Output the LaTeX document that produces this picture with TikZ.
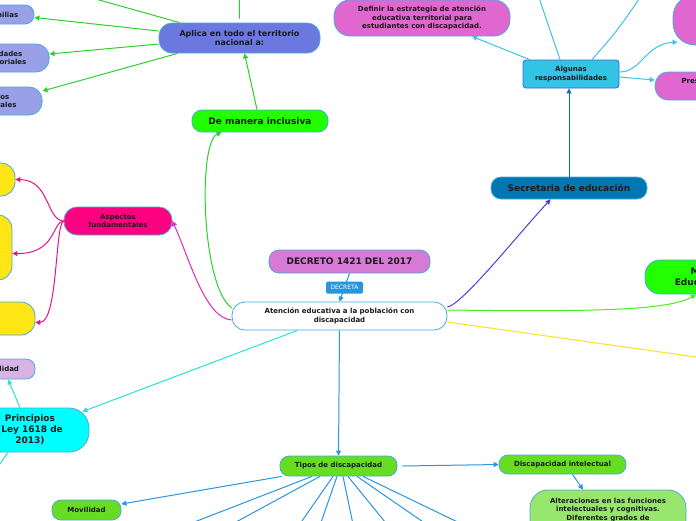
\documentclass[tikz,border=0pt]{standalone}
\usepackage{fontspec}
\setmainfont{DejaVu Sans}
\usetikzlibrary{arrows.meta,calc}
\definecolor{bord}{RGB}{70,170,225}
\definecolor{bordDark}{RGB}{40,110,210}
\definecolor{txt}{RGB}{26,26,26}
\definecolor{cAplica}{RGB}{107,120,224}
\definecolor{cLav}{RGB}{154,160,232}
\definecolor{cGreen}{RGB}{34,255,0}
\definecolor{cPink}{RGB}{224,102,208}
\definecolor{cAlg}{RGB}{51,195,229}
\definecolor{cSec}{RGB}{0,119,179}
\definecolor{cDec}{RGB}{214,122,214}
\definecolor{cLbl}{RGB}{38,150,222}
\definecolor{cAsp}{RGB}{255,0,128}
\definecolor{cYel}{RGB}{255,230,20}
\definecolor{cLid}{RGB}{216,180,230}
\definecolor{cCyan}{RGB}{0,255,255}
\definecolor{cTip}{RGB}{102,221,34}
\definecolor{cAlt}{RGB}{153,230,110}
\definecolor{eG}{RGB}{44,210,44}
\definecolor{eG2}{RGB}{70,240,30}
\definecolor{eMag}{RGB}{222,40,200}
\definecolor{eMag2}{RGB}{230,20,140}
\definecolor{ePur}{RGB}{68,68,221}
\definecolor{eDB}{RGB}{22,110,176}
\definecolor{eLC}{RGB}{60,195,230}
\definecolor{eCy}{RGB}{40,225,215}
\definecolor{eBl}{RGB}{40,150,225}
\definecolor{eYe}{RGB}{255,225,30}
\begin{document}
\begin{tikzpicture}[x=1pt,y=-1pt,
  box/.style={draw=bord, line width=0.8pt, inner sep=0pt, align=center, text=txt,
    font=\bfseries\fontsize{7}{8.5}\selectfont},
  big/.style={font=\bfseries\fontsize{9}{11}\selectfont},
  mid/.style={font=\bfseries\fontsize{8}{9.5}\selectfont},
  eg/.style={line width=1pt, -{Triangle[length=5pt,width=5pt]}},
  ln/.style={line width=1pt},
  lbl/.style={fill=cLbl, text=white, font=\fontsize{6}{7}\selectfont, inner sep=0pt,
    minimum width=37pt, minimum height=12pt, rounded corners=1.5pt}]
\fill[white] (0,0) rectangle (696,520);
\useasboundingbox (0,0) rectangle (696,520);
\clip (0,0) rectangle (696,520);

% nodes
\node[box, mid, fill=cAplica, minimum width=161pt, minimum height=30pt, rounded corners=13pt] (aplica) at (239.5,38) {Aplica en todo el territorio\\nacional a:};
\node[box, fill=cLav, minimum width=64pt, minimum height=19pt, rounded corners=9pt] (fam) at (2,14.5) {Familias};
\node[box, fill=cLav, minimum width=93pt, minimum height=28pt, rounded corners=13pt] (ent) at (2.6,58) {Entidades\\territoriales};
\node[box, fill=cLav, minimum width=133pt, minimum height=28pt, rounded corners=13pt] (est) at (-24.4,101) {Establecimientos\\educativos estatales};
\node[box, big, fill=cGreen, minimum width=136pt, minimum height=22pt, rounded corners=10pt] (manera) at (260,121) {De manera inclusiva};
\node[box, fill=cPink, minimum width=176pt, minimum height=36pt, rounded corners=16pt] (definir) at (422,18) {Definir la estrategia de atención\\educativa territorial para\\estudiantes con discapacidad.};
\node[box, draw=bordDark, fill=cAlg, minimum width=96pt, minimum height=28pt, rounded corners=3pt] (algunas) at (571,74) {Algunas\\responsabilidades};
\node[box, fill=cPink, minimum width=114pt, minimum height=50pt, rounded corners=22pt] (tr) at (730,20) {};
\node[box, fill=cPink, minimum width=155pt, minimum height=28pt, rounded corners=13pt] (pres) at (732.6,86) {Prestar asistencia técnica\\y pedagógica};
\node[box, big, fill=cSec, minimum width=156pt, minimum height=22pt, rounded corners=10pt] (secretaria) at (569,188) {Secretaria de educación};
\node[box, big, fill=cGreen, minimum width=158pt, minimum height=34pt, rounded corners=15pt] (min) at (724,277) {Ministerio de\\Educación Nacional};
\node[box, big, fill=cDec, minimum width=161pt, minimum height=23pt, rounded corners=10pt] (decreto) at (349.5,261.5) {DECRETO 1421 DEL 2017};
\node[box, fill=white, minimum width=215pt, minimum height=28pt, rounded corners=13pt] (aten) at (339.5,316) {Atención educativa a la población con\\discapacidad};
\node[box, fill=cAsp, minimum width=108pt, minimum height=28pt, rounded corners=13pt] (aspectos) at (118,221) {Aspectos\\fundamentales};
\node[box, fill=cYel, minimum width=110pt, minimum height=33pt, rounded corners=14pt] (ya) at (-40,179.5) {};
\node[box, fill=cYel, minimum width=124pt, minimum height=65pt, rounded corners=14pt] (yb) at (-50,247.5) {};
\node[box, fill=cYel, minimum width=130pt, minimum height=33pt, rounded corners=14pt] (yc) at (-30,318.5) {};
\node[box, fill=cLid, minimum width=84pt, minimum height=20pt, rounded corners=9pt] (lidad) at (-7,369) {Accesibilidad};
\node[box, big, fill=cCyan, minimum width=118pt, minimum height=44pt, rounded corners=20pt] (princ) at (30,430) {Principios\\(Ley 1618 de\\2013)};
\node[box, fill=cTip, minimum width=117pt, minimum height=20pt, rounded corners=9pt] (tipos) at (338.5,466) {Tipos de discapacidad};
\node[box, fill=cTip, minimum width=127pt, minimum height=19pt, rounded corners=9pt] (discint) at (562.5,464.5) {Discapacidad intelectual};
\node[box, fill=cAlt, minimum width=156pt, minimum height=48pt, rounded corners=18pt] (alter) at (608,514) {Alteraciones en las funciones\\intelectuales y cognitivas.\\Diferentes grados de\\discapacidad.};
\node[box, fill=cTip, minimum width=69pt, minimum height=20pt, rounded corners=9pt] (mov) at (86.5,510) {Movilidad};

% free ends
\coordinate (offA) at (60,-11);
\coordinate (offB) at (239,-20);
\coordinate (offC) at (533,-20);
\coordinate (offD) at (652,-20);
\coordinate (offE) at (760,366);
\coordinate (offF) at (-15,485);

% edges
\draw[eg, eG] ([yshift=7pt]aplica.west) -- ([yshift=-3pt]fam.east);
\draw[eg, eG] ([yshift=-6pt]aplica.west) -- ([yshift=4pt]ent.east);
\draw[eg, eG] ([xshift=19pt]aplica.south west) -- ([yshift=10pt]est.east);
\draw[eg, eG] ([xshift=21pt]aplica.north west) -- (offA);
\draw[eg, eG] ([yshift=4pt]aplica.north) -- (offB);
\draw[eg, eG] ([xshift=-3pt]manera.north) -- ([xshift=5pt]aplica.south);
\draw[eg, eG] ([yshift=8pt]aten.west) .. controls (201,285) and (198,142) .. ([xshift=30pt]manera.south west);
\draw[eg, eMag] ([yshift=-4pt]aten.west) .. controls (205,318) and (190,260) .. (aspectos.east);
\draw[eg, eMag2] (aspectos.west) .. controls (46,220) and (50,180) .. (ya.east);
\draw[eg, eMag2] (aspectos.west) .. controls (52,222) and (56,254) .. ([yshift=-6pt]yb.east);
\draw[eg, eMag2] (aspectos.west) .. controls (55,224) and (58,322) .. ([yshift=-4pt]yc.east);
\draw[eg, ePur] ([yshift=9pt]aten.east) .. controls (462,305) and (520,232) .. ([xshift=60pt]secretaria.south west);
\draw[eg, eDB] (secretaria.north) -- ([xshift=-2pt]algunas.south);
\draw[eg, eLC] ([xshift=7pt]algunas.north west) -- ([xshift=50pt]definir.south);
\draw[eg, eLC] ([xshift=-11pt]algunas.north) -- (offC);
\draw[eg, eLC] ([xshift=21pt]algunas.north) .. controls (618,30) .. (offD);
\draw[eg, eLC] ([yshift=2pt]algunas.east) .. controls (642,72) and (645,44) .. ([xshift=5pt,yshift=-22pt]tr.west);
\draw[eg, eLC] ([yshift=-3pt]algunas.east) -- ([yshift=6pt]pres.west);
\draw[eg, eG2] ([yshift=6pt]aten.east) .. controls (600,312) and (670,310) .. ([xshift=-28pt]min.south);
\draw[eg, eYe] ([yshift=-6pt]aten.east) -- (offE);
\draw[eg, eCy] ([xshift=-42pt]aten.south) -- ([xshift=-7pt,yshift=-4pt]princ.north east);
\draw[eg, eCy] ([xshift=-10pt]princ.north) -- ([xshift=15pt]lidad.south);
\draw[eg, eCy] ([xshift=-22pt]princ.south) -- (offF);
\draw[eg, eBl] (decreto.south) -- node[lbl] (decreta) {DECRETA} (aten.north);
\draw[eg, eBl] (aten.south) -- (tipos.north);
\draw[eg, eBl] ([xshift=5pt]tipos.east) -- (discint.west);
\draw[eg, eBl] ([xshift=10pt]discint.south) -- ([xshift=-25pt]alter.north);
\draw[eg, eBl] ([xshift=2pt]tipos.south west) -- ([yshift=6pt]mov.east);
\foreach \s/\ex [count=\i] in {-26.5/147.9, -18.5/202.8, -5.5/288.7, -1.5/314.9, 4.5/356.3, 9.5/399.7, 18.5/449.3, 24.5/494.9}{
  \coordinate (b\i) at (\ex,540);
  \draw[ln, eBl] ([xshift=\s pt]tipos.south) -- (b\i);
}
\end{tikzpicture}
\end{document}
